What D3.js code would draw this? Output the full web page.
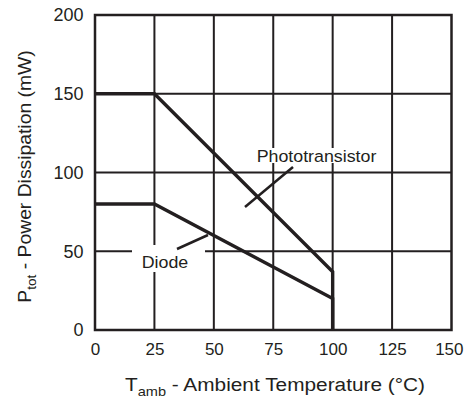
<!DOCTYPE html>
<html><head><meta charset="utf-8">
<script src="https://cdn.jsdelivr.net/npm/d3@7/dist/d3.min.js"></script>
<style>body{margin:0;background:#fff}</style>
</head><body><svg id="c" width="464" height="400"></svg>
<script>
const xTicks = [0, 25, 50, 75, 100, 125, 150];
const yTicks = [0, 50, 100, 150, 200];
const photoT = [0, 25, 100, 100];
const photoP = [150, 150, 37, 0];
const diodeT = [0, 25, 100, 100];
const diodeP = [80, 80, 20, 0];
const seriesNames = ["Phototransistor", "Diode"];

const ink = "#231f20";
const font = "'Liberation Sans', Arial, sans-serif";
const svg = d3.select("#c");
const x = d3.scaleLinear().domain([0, 150]).range([95, 451.5]);
const y = d3.scaleLinear().domain([0, 200]).range([330, 15]);

// grid
svg.append("g").selectAll("line").data(xTicks.slice(1, -1)).join("line")
  .attr("x1", d => x(d)).attr("x2", d => x(d)).attr("y1", y(200)).attr("y2", y(0))
  .attr("stroke", ink).attr("stroke-width", 2);
svg.append("g").selectAll("line").data(yTicks.slice(1, -1)).join("line")
  .attr("x1", x(0)).attr("x2", x(150)).attr("y1", d => y(d)).attr("y2", d => y(d))
  .attr("stroke", ink).attr("stroke-width", 2);

// series labels with white knock-out boxes and leader lines
const labels = [
  {name: seriesNames[0], tx: 316.5, ty: 162, box: [-66, -14, 132, 15], line: [[293, 167], [245, 207]]},
  {name: seriesNames[1], tx: 165, ty: 268, box: [-33, -23, 73, 27], line: [[177, 249], [208, 235]]}
];
labels.forEach(l => {
  svg.append("rect").attr("x", l.tx + l.box[0]).attr("y", l.ty + l.box[1])
    .attr("width", l.box[2]).attr("height", l.box[3]).attr("fill", "#fff");
  svg.append("text").attr("transform", `translate(${l.tx},${l.ty}) scale(1.08,1)`)
    .attr("text-anchor", "middle").attr("font-family", font).attr("font-size", 16.5)
    .attr("fill", ink).text(l.name);
  svg.append("line").attr("x1", l.line[0][0]).attr("y1", l.line[0][1])
    .attr("x2", l.line[1][0]).attr("y2", l.line[1][1])
    .attr("stroke", ink).attr("stroke-width", 2.5);
});

// frame
svg.append("rect").attr("x", x(0)).attr("y", y(200)).attr("width", x(150) - x(0)).attr("height", y(0) - y(200))
  .attr("fill", "none").attr("stroke", ink).attr("stroke-width", 2.5);

// curves
const line = d3.line().x(d => x(d[0])).y(d => y(d[1]));
const photo = photoT.map((t, i) => [t, photoP[i]]);
const diode = diodeT.map((t, i) => [t, diodeP[i]]);
[photo, diode].forEach(s => {
  svg.append("path").attr("d", line(s)).attr("fill", "none").attr("stroke", ink)
    .attr("stroke-width", 3.4).attr("stroke-linejoin", "miter");
});

// tick labels
const xAxis = d3.axisBottom(x).tickValues(xTicks).tickSize(0).tickPadding(13);
const gx = svg.append("g").attr("transform", `translate(0,${y(0)})`).call(xAxis);
gx.select(".domain").remove();
gx.selectAll("text").attr("font-family", font).attr("font-size", 17).attr("fill", ink);
gx.selectAll(".tick").filter(d => d === xTicks[xTicks.length - 1]).select("text")
  .attr("text-anchor", "end").attr("x", 11.5);

const yAxis = d3.axisLeft(y).tickValues(yTicks).tickSize(0).tickPadding(11.5);
const gy = svg.append("g").attr("transform", `translate(${x(0)},0)`).call(yAxis);
gy.select(".domain").remove();
gy.selectAll("text").attr("font-family", font).attr("font-size", 18).attr("fill", ink);

// axis titles
const xt = svg.append("text").attr("transform", "translate(275,391) scale(1.12,1)")
  .attr("text-anchor", "middle").attr("font-family", font).attr("font-size", 18.6).attr("fill", ink);
xt.append("tspan").text("T");
xt.append("tspan").attr("font-size", 13).attr("dy", 5).text("amb");
xt.append("tspan").attr("dy", -5).text(" - Ambient Temperature (°C)");

const yt = svg.append("text")
  .attr("transform", `translate(31,${(y(0) + y(200)) / 2 + 4}) rotate(-90) scale(1.05,1)`)
  .attr("text-anchor", "middle").attr("font-family", font).attr("font-size", 18.4).attr("fill", ink);
yt.append("tspan").text("P");
yt.append("tspan").attr("font-size", 13).attr("dy", 5).text("tot");
yt.append("tspan").attr("dy", -5).text(" - Power Dissipation (mW)");
</script>
</body></html>
